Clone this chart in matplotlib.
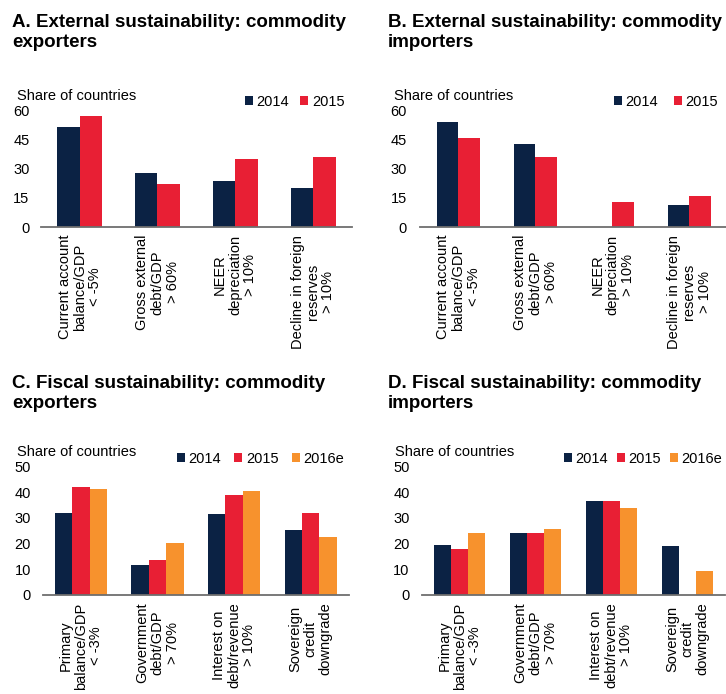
#!/usr/bin/env python3
"""Share of countries breaching external and fiscal sustainability thresholds."""

from __future__ import annotations

import matplotlib as mpl

mpl.use("Agg")

import matplotlib.pyplot as plt
import numpy as np
from matplotlib.patches import Patch

# ---------------------------------------------------------------- data
EXT_CATEGORIES = [
    "Current account\nbalance/GDP\n< -5%",
    "Gross external\ndebt/GDP\n> 60%",
    "NEER\ndepreciation\n> 10%",
    "Decline in foreign\nreserves\n> 10%",
]
FISCAL_CATEGORIES = [
    "Primary\nbalance/GDP\n< -3%",
    "Government\ndebt/GDP\n> 70%",
    "Interest on\ndebt/revenue\n> 10%",
    "Sovereign\ncredit\ndowngrade",
]
EXT_YEARS = ["2014", "2015"]
FISCAL_YEARS = ["2014", "2015", "2016e"]

ext_exp_2014 = [51.5, 27.7, 23.7, 20.3]
ext_exp_2015 = [57.2, 22.2, 35.1, 35.9]
ext_imp_2014 = [54.3, 42.6, 0.0, 11.3]
ext_imp_2015 = [45.9, 36.2, 12.7, 16.1]

fis_exp_2014 = [32.0, 11.6, 31.4, 25.3]
fis_exp_2015 = [42.2, 13.4, 39.1, 31.8]
fis_exp_2016 = [41.1, 20.2, 40.6, 22.4]
fis_imp_2014 = [19.4, 24.1, 36.6, 18.9]
fis_imp_2015 = [17.7, 24.0, 36.5, 0.0]
fis_imp_2016 = [24.0, 25.5, 33.9, 9.2]

EXT_TICKS = [0, 15, 30, 45, 60]
FISCAL_TICKS = [0, 10, 20, 30, 40, 50]

COLORS = ["#0b2244", "#e81f34", "#f7922d"]
W_PX, H_PX = 726, 694
FONT = 10.5


def fig_rect(left, right, top, bottom):
    """Pixel box -> figure fraction [l, b, w, h]."""
    return [left / W_PX, 1 - bottom / H_PX, (right - left) / W_PX, (bottom - top) / H_PX]


def draw_panel(fig, rect, title, title_xy, share_xy, categories, years, series,
               ticks, bar_width, ypad, legend_xy, colspacing):
    ax = fig.add_axes(rect)
    x = np.arange(len(categories))
    n = len(series)
    offsets = (np.arange(n) - (n - 1) / 2) * bar_width
    for values, off, color in zip(series, offsets, COLORS):
        ax.bar(x + off, values, width=bar_width, color=color, linewidth=0)

    ax.set_xlim(-0.5, len(categories) - 0.5)
    ax.set_ylim(ticks[0], ticks[-1])
    ax.set_yticks(ticks)
    ax.set_xticks(x)
    ax.set_xticklabels(categories, rotation=90, multialignment="center",
                       linespacing=1.1)
    ax.tick_params(axis="both", length=0, labelsize=FONT)
    ax.tick_params(axis="y", pad=ypad)
    ax.tick_params(axis="x", pad=5.5)
    for side in ("top", "right", "left"):
        ax.spines[side].set_visible(False)
    ax.spines["bottom"].set_color("#6e6e6e")
    ax.spines["bottom"].set_linewidth(1.3)
    ax.set_facecolor("none")

    fig.text(title_xy[0] / W_PX, 1 - title_xy[1] / H_PX, title, fontsize=13.5,
             fontweight="bold", va="top", ha="left", linespacing=1.2)
    fig.text(share_xy[0] / W_PX, 1 - share_xy[1] / H_PX, "Share of countries",
             fontsize=FONT, va="baseline", ha="left")

    handles = [Patch(facecolor=c, linewidth=0) for c in COLORS[:n]]
    ax.legend(handles, years, ncol=n, frameon=False, fontsize=FONT,
              loc="center left", bbox_to_anchor=(legend_xy[0] / W_PX, 1 - legend_xy[1] / H_PX),
              bbox_transform=fig.transFigure, borderpad=0, borderaxespad=0,
              handlelength=0.55, handleheight=0.55, handletextpad=0.25,
              columnspacing=colspacing)
    return ax


def main() -> None:
    plt.rcParams["font.family"] = ["Liberation Sans", "DejaVu Sans"]
    fig = plt.figure(figsize=(W_PX / 100, H_PX / 100), dpi=100)

    draw_panel(fig, fig_rect(40.7, 352, 110.7, 227),
               "A. External sustainability: commodity\nexporters", (12, 14), (17, 100),
               EXT_CATEGORIES, EXT_YEARS, [ext_exp_2014, ext_exp_2015],
               EXT_TICKS, 0.29, 8.0, (245, 101.5), 0.75)
    draw_panel(fig, fig_rect(420, 728, 110.7, 227),
               "B. External sustainability: commodity\nimporters", (388, 14), (394, 100),
               EXT_CATEGORIES, EXT_YEARS, [ext_imp_2014, ext_imp_2015],
               EXT_TICKS, 0.285, 9.5, (614, 101.5), 1.05)
    draw_panel(fig, fig_rect(42.7, 349, 466.7, 594.7),
               "C. Fiscal sustainability: commodity\nexporters", (12, 375), (17, 456),
               FISCAL_CATEGORIES, FISCAL_YEARS, [fis_exp_2014, fis_exp_2015, fis_exp_2016],
               FISCAL_TICKS, 0.227, 8.5, (177, 459), 0.9)
    draw_panel(fig, fig_rect(422, 725, 466.7, 594.7),
               "D. Fiscal sustainability: commodity\nimporters", (388, 375), (395, 456),
               FISCAL_CATEGORIES, FISCAL_YEARS, [fis_imp_2014, fis_imp_2015, fis_imp_2016],
               FISCAL_TICKS, 0.225, 9.0, (564, 459), 0.6)

    fig.savefig("out.png", dpi=100)
    plt.close(fig)


if __name__ == "__main__":
    main()
